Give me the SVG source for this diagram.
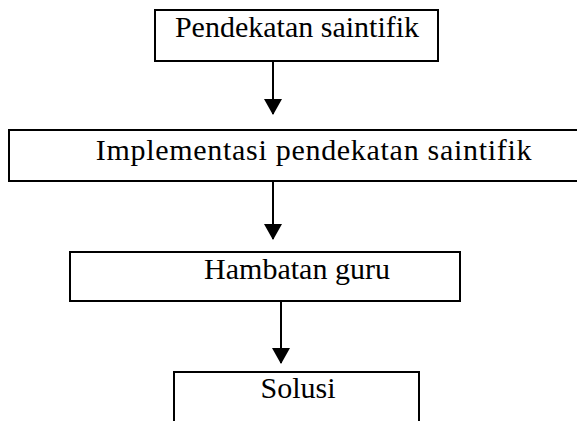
<svg xmlns="http://www.w3.org/2000/svg" width="577" height="421" viewBox="0 0 577 421">
<style>
.box{fill:#fff;stroke:#000;stroke-width:2}
.t{font-family:"Liberation Serif","Times New Roman",serif;font-size:30px;fill:#000;text-anchor:middle}
.c{stroke:#000;stroke-width:2;fill:none}
</style>
<defs>
<marker id="ah" markerWidth="8" markerHeight="9" refX="7.5" refY="4.5" orient="auto" markerUnits="strokeWidth"><path d="M0,0 L8,4.5 L0,9 Z" fill="#000"/></marker>
</defs>
<rect width="577" height="421" fill="#fff"/>
<g id="n1"><rect class="box" x="155" y="10" width="283" height="51"/><text class="t" x="297" y="37">Pendekatan saintifik</text></g>
<g id="n2"><path class="box" d="M578,130 H9 V181 H578"/><text class="t" x="314" y="160" letter-spacing="0.7">Implementasi pendekatan saintifik</text></g>
<g id="n3"><rect class="box" x="70" y="252" width="390" height="49"/><text class="t" x="297" y="279">Hambatan guru</text></g>
<g id="n4"><path class="box" d="M174,422 V372 H419 V422"/><text class="t" x="298" y="398">Solusi</text></g>
<g id="connectors">
<line class="c" x1="273" y1="61" x2="273" y2="114" marker-end="url(#ah)"/>
<line class="c" x1="273" y1="182" x2="273" y2="239" marker-end="url(#ah)"/>
<line class="c" x1="281" y1="302" x2="281" y2="363" marker-end="url(#ah)"/>
</g>
</svg>
